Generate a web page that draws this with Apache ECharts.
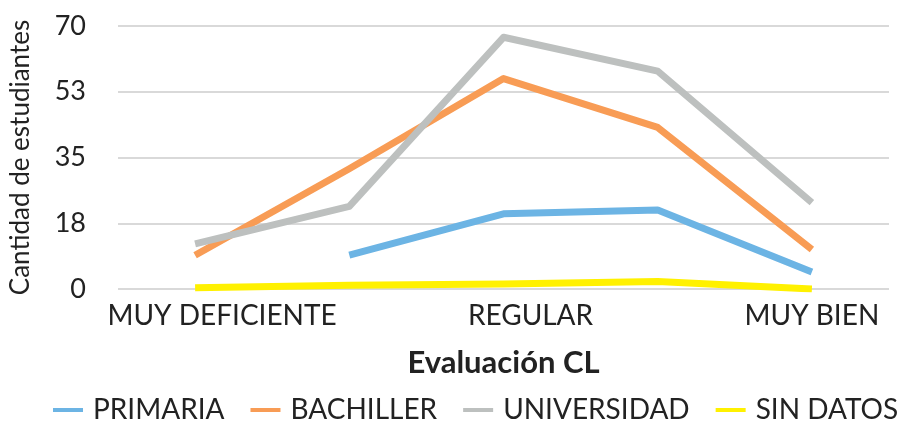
<!DOCTYPE html>
<html>
<head>
<meta charset="utf-8">
<script src="https://cdn.jsdelivr.net/npm/echarts@6/dist/echarts.min.js"></script>
<style>
  html, body { margin: 0; padding: 0; background: #fff; }
  #chart { width: 903px; height: 421px; }
</style>
</head>
<body>
<div id="chart"></div>
<script>
const categories = ['MUY DEFICIENTE', 'DEFICIENTE', 'REGULAR', 'BIEN', 'MUY BIEN']
const primaria = [null, 9, 20, 21, 4.5]
const bachiller = [9, 32, 56, 43, 10.5]
const universidad = [12, 22, 67, 58, 23]
const sinDatos = [0.3, 1, 1.3, 2, 0]

const chart = echarts.init(document.getElementById('chart'))
const font = 'Lato'

const mkLine = (name, data, color) => ({
  name: name,
  type: 'line',
  data: data,
  symbol: 'none',
  smooth: false,
  itemStyle: { color: color },
  lineStyle: { width: 7, color: color, join: 'round' }
})

const option = {
  animation: false,
  textStyle: { fontFamily: font },
  grid: { left: 116, right: 14, top: 26, bottom: 132 },
  legend: {
    top: 396,
    left: 53,
    padding: 0,
    icon: 'rect',
    itemWidth: 30,
    itemHeight: 4,
    itemGap: 26,
    textStyle: { fontSize: 28, color: '#222', fontFamily: font, padding: [0, 0, 0, 5] }
  },
  xAxis: {
    type: 'category',
    data: categories,
    name: 'Evaluación CL',
    nameLocation: 'middle',
    nameGap: 58,
    nameTextStyle: { fontSize: 31, fontWeight: 'bold', color: '#222', fontFamily: font },
    axisLine: { show: false },
    axisTick: { show: false },
    axisLabel: {
      interval: 1, fontSize: 28, color: '#222', margin: 13, fontFamily: font,
      formatter: (v, i) => i < 4 ? '{s|' + v + '}' : v,
      rich: { s: { fontSize: 28, color: '#222', fontFamily: font, padding: [0, 0, 0, 54] } }
    }
  },
  yAxis: {
    type: 'value',
    min: 0,
    max: 70,
    interval: 17.5,
    name: 'Cantidad de estudiantes',
    nameLocation: 'middle',
    nameGap: 84,
    nameTextStyle: { fontSize: 26, color: '#222', fontFamily: font },
    axisLine: { show: false },
    axisTick: { show: false },
    axisLabel: {
      fontSize: 27, color: '#222', margin: 32, fontFamily: font,
      formatter: v => Math.round(v)
    },
    splitLine: { lineStyle: { color: '#d9d9d9', width: 2 } }
  },
  series: [
    mkLine('PRIMARIA', primaria, '#6cb4e4'),
    mkLine('BACHILLER', bachiller, '#f89c55'),
    mkLine('UNIVERSIDAD', universidad, '#bdc0bf'),
    mkLine('SIN DATOS', sinDatos, '#fff100')
  ]
}
chart.setOption(option)
</script>
</body>
</html>
